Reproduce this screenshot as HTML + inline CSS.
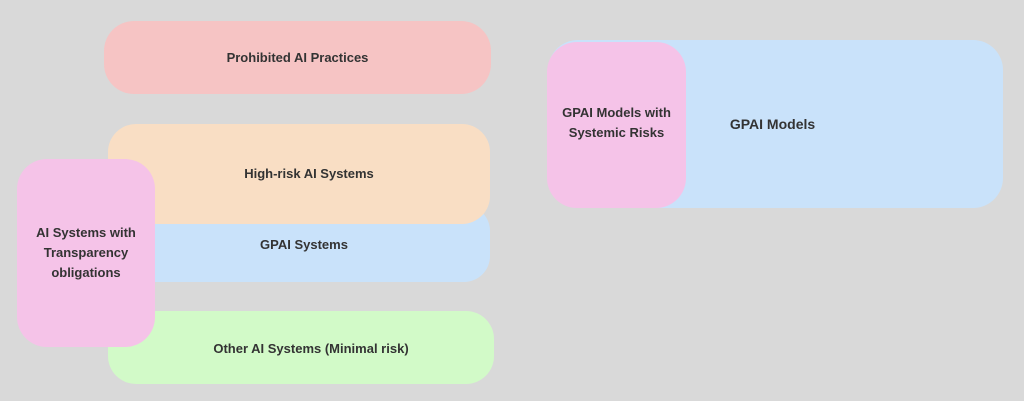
<!DOCTYPE html>
<html><head><style>
body{margin:0;width:1024px;height:401px;background:#d9d9d9;position:relative;overflow:hidden;font-family:"Liberation Sans",sans-serif;}
.b{position:absolute;display:flex;align-items:center;justify-content:center;text-align:center;font-weight:bold;font-size:13px;color:#333;line-height:20px;box-sizing:border-box;}
</style></head><body>
<div class="b" style="left:104px;top:21px;width:387px;height:73px;border-radius:30px;background:#f6c4c4">Prohibited AI Practices</div>
<div class="b" style="left:108px;top:205px;width:382px;height:77px;border-radius:26px;background:#c9e2fa;padding-top:2px;padding-left:10px">GPAI Systems</div>
<div class="b" style="left:108px;top:124px;width:382px;height:100px;border-radius:28px;background:#f9dec4;padding-left:20px">High-risk AI Systems</div>
<div class="b" style="left:108px;top:311px;width:386px;height:73px;border-radius:28px;background:#d2fac8;padding-top:2px;padding-left:20px">Other AI Systems (Minimal risk)</div>
<div class="b" style="left:17px;top:159px;width:138px;height:188px;border-radius:30px;background:#f5c3e8">AI Systems with<br>Transparency<br>obligations</div>
<div class="b" style="left:548px;top:40px;width:455px;height:168px;border-radius:30px;background:#c9e2fa;padding-right:6px;font-size:14px">GPAI Models</div>
<div class="b" style="left:547px;top:42px;width:139px;height:166px;border-radius:30px;background:#f5c3e8;padding-bottom:4px">GPAI Models with<br>Systemic Risks</div>
</body></html>
